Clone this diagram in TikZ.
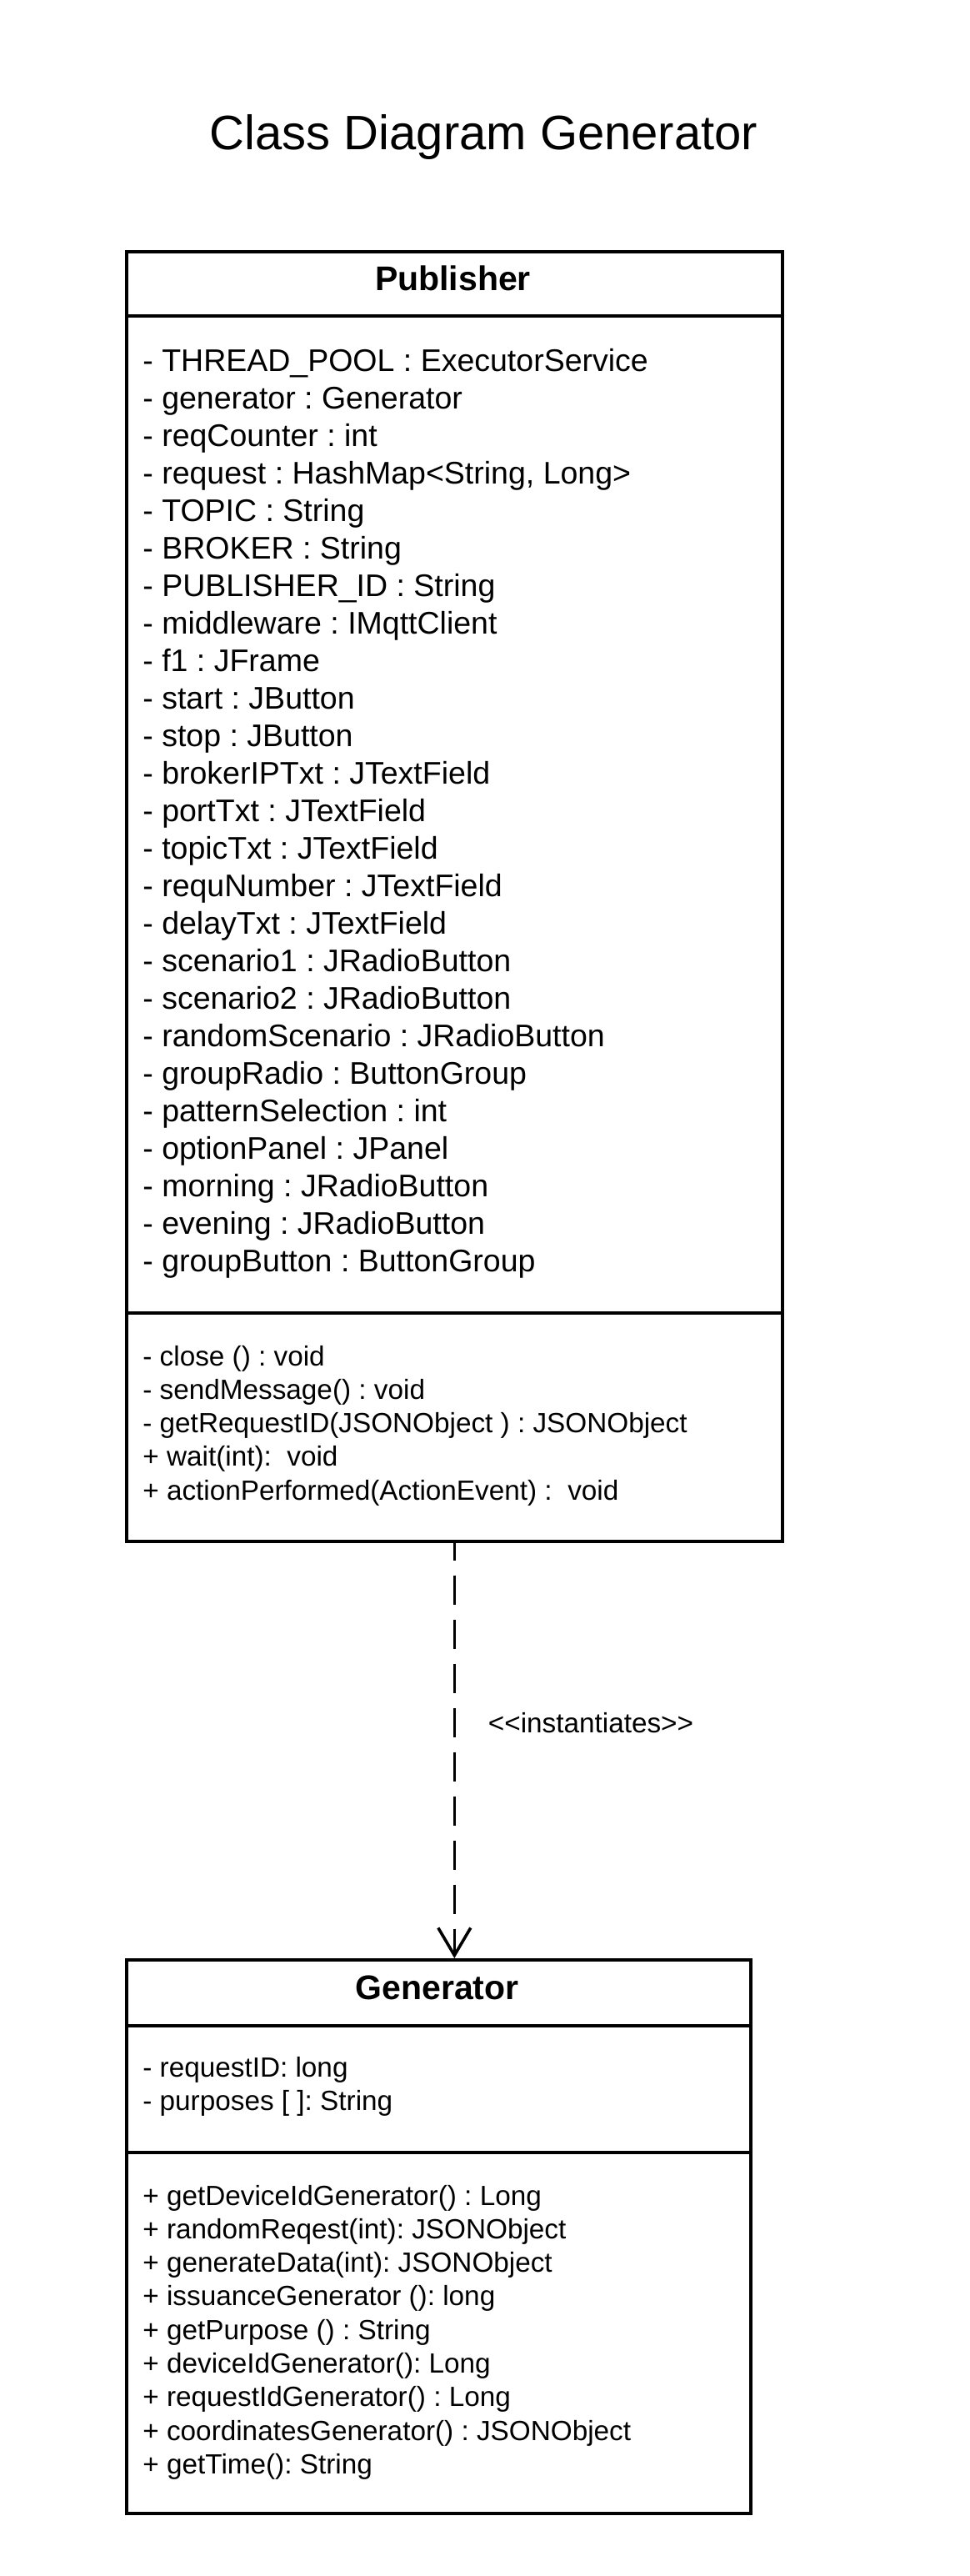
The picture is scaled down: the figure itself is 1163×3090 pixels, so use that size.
\documentclass[tikz,border=0pt]{standalone}
\usepackage{fontspec}
\setmainfont{Liberation Sans}
\usepackage{tikz}
\usetikzlibrary{arrows.meta}
\frenchspacing
\begin{document}
\begin{tikzpicture}[x=0.5pt,y=-0.5pt,
	caja/.style={draw,line width=1.8pt,inner sep=0pt,anchor=north west},
	sep/.style={line width=1.8pt},
	nombre/.style={font=\fontsize{20.5pt}{24pt}\selectfont\bfseries,anchor=base,inner sep=0pt},
	atrib/.style={font=\fontsize{18.75pt}{22.5pt}\selectfont,anchor=base west,inner sep=0pt},
	metodo/.style={font=\fontsize{16.65pt}{20pt}\selectfont,anchor=base west,inner sep=0pt},
	dep/.style={line width=1.8pt,dash pattern=on 17.5pt off 9pt,dash phase=7pt,-{Straight Barb[length=16.5pt,width=19.5pt]}}]
		\useasboundingbox (0,0) rectangle (1163,3090);
		\node[font=\fontsize{29pt}{34pt}\selectfont,anchor=base,inner sep=0pt] (titulo) at (580.5,179) {Class Diagram Generator}; % titulo
		% clase Publisher
		\node[caja,minimum width=393.5pt,minimum height=773.5pt] (pub) at (150,300) {};
		\draw[sep] (pub.west |- 0,379) -- (pub.east |- 0,379);
		\draw[sep] (pub.west |- 0,1575) -- (pub.east |- 0,1575);
		\node[nombre] (pubnombre) at (543.5,348) {Publisher};
		\foreach \t [count=\i from 0] in {{- THREAD\_POOL : ExecutorService},{- generator : Generator},
			{- reqCounter : int},{- request : HashMap<String, Long>},{- TOPIC : String},{- BROKER : String},
			{- PUBLISHER\_ID : String},{- middleware : IMqttClient},{- f1 : JFrame},{- start : JButton},
			{- stop : JButton},{- brokerIPTxt : JTextField},{- portTxt : JTextField},{- topicTxt : JTextField},
			{- requNumber : JTextField},{- delayTxt : JTextField},{- scenario1 : JRadioButton},
			{- scenario2 : JRadioButton},{- randomScenario : JRadioButton},{- groupRadio : ButtonGroup},
			{- patternSelection : int},{- optionPanel : JPanel},{- morning : JRadioButton},
			{- evening : JRadioButton},{- groupButton : ButtonGroup}}
		\node[atrib] (pa\i) at (171,{445+45*\i}) {\t};
		\foreach \t [count=\i from 0] in {{- close () : void},{- sendMessage() : void},
			{- getRequestID(JSONObject ) : JSONObject},{+ wait(int):~ void},{+ actionPerformed(ActionEvent) :~ void}}
		\node[metodo] (pm\i) at (171,{1638+40.25*\i}) {\t};
		% clase Generator
		\node[caja,minimum width=374.5pt,minimum height=332pt] (gen) at (150,2349) {};
		\draw[sep] (gen.west |- 0,2430) -- (gen.east |- 0,2430);
		\draw[sep] (gen.west |- 0,2582) -- (gen.east |- 0,2582);
		\node[nombre] (gennombre) at (524.5,2398) {Generator};
		\foreach \t [count=\i from 0] in {{- requestID: long},{- purposes [ ]: String}}
		\node[metodo] (ga\i) at (171,{2491+40.3*\i}) {\t};
		\foreach \t [count=\i from 0] in {{+ getDeviceIdGenerator() : Long},{+ randomReqest(int): JSONObject},
			{+ generateData(int): JSONObject},{+ issuanceGenerator (): long},{+ getPurpose () : String},
			{+ deviceIdGenerator(): Long},{+ requestIdGenerator() : Long},{+ coordinatesGenerator() : JSONObject},
			{+ getTime(): String}}
		\node[metodo] (gm\i) at (171,{2645+40.3*\i}) {\t};
		% dependencia
		\draw[dep] (pub.south) -- (pub.south |- gen.north);
		\node[metodo] (etiqueta) at (585.5,2078) {\mbox{<}\mbox{<}instantiates\mbox{>}\mbox{>}};
		\end{tikzpicture}
\end{document}
